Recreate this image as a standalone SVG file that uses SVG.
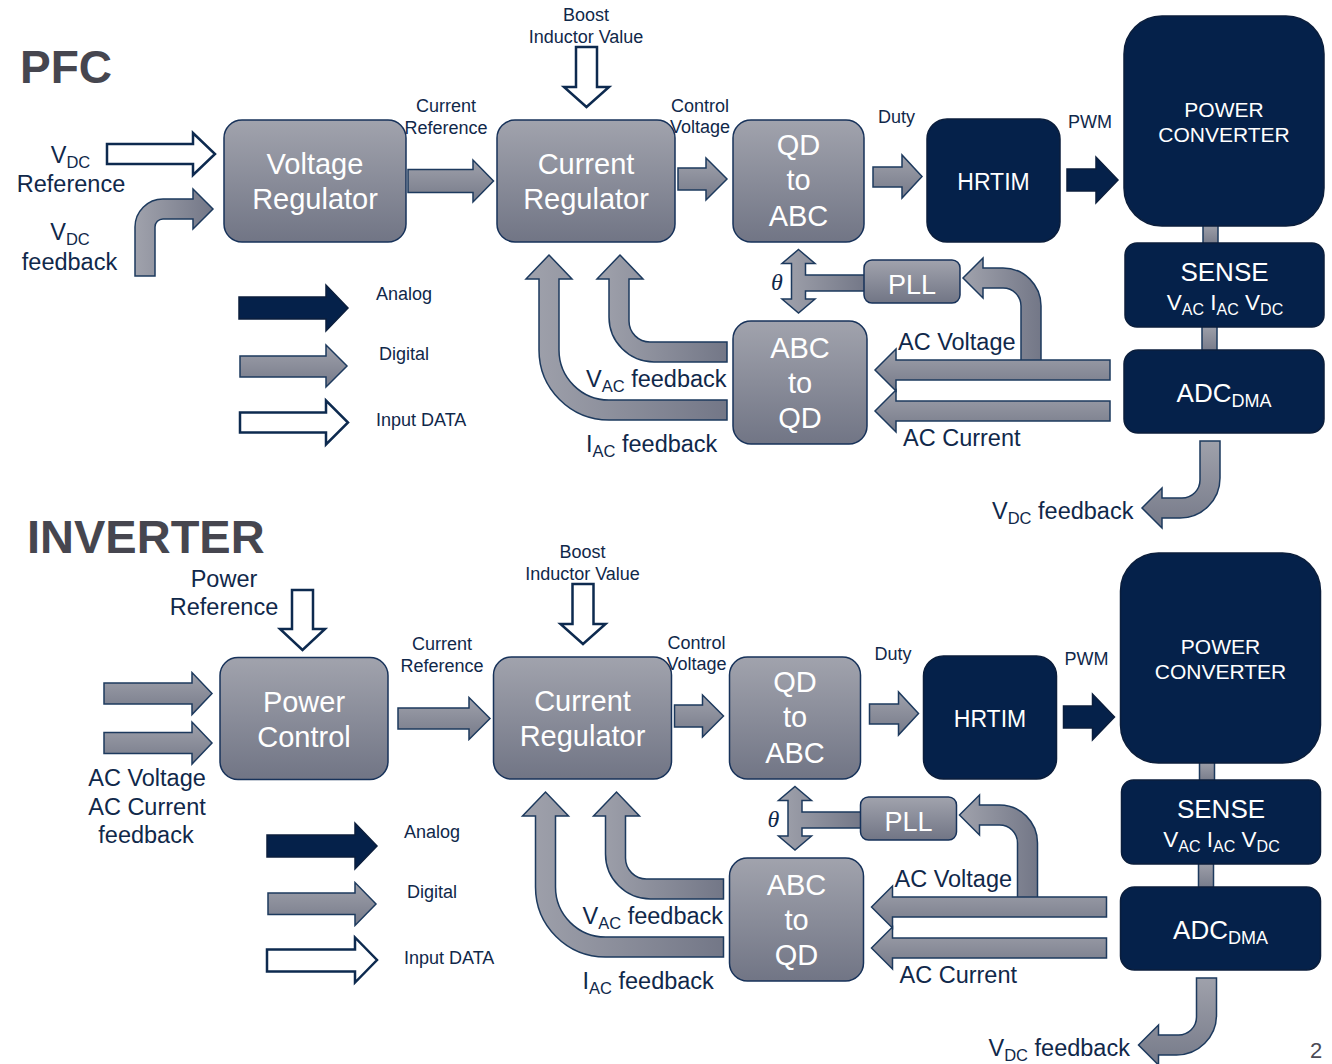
<svg xmlns="http://www.w3.org/2000/svg" width="1332" height="1064" viewBox="0 0 1332 1064">
  <defs>
    <linearGradient id="boxGrad" x1="0" y1="0" x2="0" y2="1">
      <stop offset="0" stop-color="#a1a3ad"/>
      <stop offset="1" stop-color="#717585"/>
    </linearGradient>
    <linearGradient id="arrGrad" x1="0" y1="0" x2="0" y2="1">
      <stop offset="0" stop-color="#9fa1ab"/>
      <stop offset="1" stop-color="#767a89"/>
    </linearGradient>
    <linearGradient id="bendGrad" x1="0" y1="0" x2="1" y2="0">
      <stop offset="0" stop-color="#a0a2ac"/>
      <stop offset="1" stop-color="#737787"/>
    </linearGradient>
    <style>
      .box { fill: url(#boxGrad); stroke: #17325a; stroke-width: 1.5; }
      .navy { fill: #05214a; stroke: #0b1e3c; stroke-width: 1.5; }
      .dig { fill: url(#arrGrad); stroke: #1d3a5e; stroke-width: 1.5; }
      .bend { fill: url(#bendGrad); stroke: #1d3a5e; stroke-width: 1.5; }
      .ana { fill: #05214a; stroke: #0b1e3c; stroke-width: 1.5; }
      .inp { fill: #ffffff; stroke: #0d2a4f; stroke-width: 2.5; }
      text { font-family: "Liberation Sans", Arial, sans-serif; }
      .lbl { fill: #10284a; }
      .s18 { font-size: 18px; }
      .s24 { font-size: 23.5px; }
      .mid { text-anchor: middle; }
      .wt { fill: #ffffff; text-anchor: middle; }
      .big { font-size: 29px; }
      .title { font-weight: bold; fill: #46464f; }
      .theta { font-family: "Liberation Serif", "Times New Roman", serif; font-style: italic; font-size: 24px; fill: #10284a; }
    </style>
  </defs>

  <rect width="1332" height="1064" fill="#ffffff"/>

  <!-- ================= PFC ================= -->
  <g id="pfc">
    <text class="title" x="20" y="83" font-size="46">PFC</text>

    <g id="pfc-connectors">
      <path class="inp" d="M107,144 H193 V133 L215,154 L193,175 V164 H107 Z"/>
      <path class="bend" d="M135,276 V227 A28 28 0 0 1 163,199 H193 V189 L213,209 L193,229 V219 H163 A8 8 0 0 0 155,227 V276 Z"/>
      <path class="dig" d="M408,169.5 H473 V160 L493.5,181 L473,202 V192.5 H408 Z"/>
      <path class="inp" d="M576,47 H597 V87 H609 L586.5,107 L564,87 H576 Z"/>
      <path class="dig" d="M678,168 H706 V158 L727,179 L706,200 V190 H678 Z"/>
      <path class="dig" d="M873,167 H902 V155 L922,176.5 L902,198 V187 H873 Z"/>
      <path class="ana" d="M1067,169 H1096 V157 L1118,180 L1096,203 V191 H1067 Z"/>
      <rect class="dig" x="1203" y="224" width="15" height="21"/>
      <rect class="dig" x="1202" y="325" width="15" height="27"/>
      <path class="bend" d="M1041,361 V306 A38 38 0 0 0 1003,268 H983 V258 L963,278 L983,298 V288 H1003 A18 18 0 0 1 1021,306 V361 Z"/>
      <path class="dig" d="M1110,360 H896 V349 L875,370 L896,391 V380 H1110 Z"/>
      <path class="dig" d="M1110,401 H896 V390 L875,411 L896,432 V421 H1110 Z"/>
      <path class="bend" d="M798.5,249.5 L815,263.5 H805.5 V275 H866 V291 H805.5 V299 H815 L798.5,313 L782,299 H791.5 V263.5 H782 Z"/>
      <path class="bend" d="M727,342 H650 A21 21 0 0 1 629,321 V279 H643 L620,255 L597,279 H609 V317 A45 45 0 0 0 654,362 H727 Z"/>
      <path class="bend" d="M727,400 H609 A50 50 0 0 1 559,350 V279 H572 L549,255 L526,279 H539 V350 A70 70 0 0 0 609,420 H727 Z"/>
      <path class="dig" d="M1200,441 H1220 V478 A40 40 0 0 1 1180,518 H1162 V528 L1142,508 L1162,488 V498 H1182 A18 18 0 0 0 1200,480 Z"/>
    </g>

    <g id="pfc-voltage-regulator">
      <rect class="box" x="224" y="120" width="182" height="122" rx="18"/>
      <text class="wt big" x="315" y="174">Voltage</text>
      <text class="wt big" x="315" y="209">Regulator</text>
    </g>
    <g id="pfc-current-regulator">
      <rect class="box" x="497" y="120" width="178" height="122" rx="18"/>
      <text class="wt big" x="586" y="174">Current</text>
      <text class="wt big" x="586" y="209">Regulator</text>
    </g>
    <g id="pfc-qd-to-abc">
      <rect class="box" x="733" y="120" width="131" height="122" rx="18"/>
      <text class="wt big" x="798.5" y="155">QD</text>
      <text class="wt big" x="798.5" y="190">to</text>
      <text class="wt big" x="798.5" y="226">ABC</text>
    </g>
    <g id="pfc-hrtim">
      <rect class="navy" x="927" y="119" width="133" height="123" rx="20"/>
      <text class="wt" x="993.5" y="190" font-size="23">HRTIM</text>
    </g>
    <g id="pfc-power-converter">
      <rect class="navy" x="1124" y="16" width="200" height="210" rx="38"/>
      <text class="wt" x="1224" y="117" font-size="21">POWER</text>
      <text class="wt" x="1224" y="142" font-size="21">CONVERTER</text>
    </g>
    <g id="pfc-sense">
      <rect class="navy" x="1125" y="243" width="199" height="84" rx="12"/>
      <text class="wt" x="1224.5" y="281" font-size="26">SENSE</text>
      <text class="wt" x="1225" y="310" font-size="22.5">V<tspan font-size="16" dy="5">AC</tspan><tspan dy="-5"> I</tspan><tspan font-size="16" dy="5">AC</tspan><tspan dy="-5"> V</tspan><tspan font-size="16" dy="5">DC</tspan></text>
    </g>
    <g id="pfc-adc">
      <rect class="navy" x="1124" y="350" width="200" height="83" rx="14"/>
      <text class="wt" x="1224" y="402" font-size="26">ADC<tspan font-size="18" dy="5">DMA</tspan></text>
    </g>
    <g id="pfc-pll">
      <rect class="box" x="864" y="260" width="96" height="43" rx="8"/>
      <text class="wt" x="912" y="294" font-size="27">PLL</text>
    </g>
    <g id="pfc-abc-to-qd">
      <rect class="box" x="733" y="321" width="134" height="123" rx="18"/>
      <text class="wt big" x="800" y="358">ABC</text>
      <text class="wt big" x="800" y="393">to</text>
      <text class="wt big" x="800" y="428">QD</text>
    </g>

    <g id="pfc-labels" class="lbl">
      <text class="s24 mid" x="70.5" y="163">V<tspan font-size="16.5" dy="5">DC</tspan></text>
      <text class="s24 mid" x="71" y="192">Reference</text>
      <text class="s24 mid" x="70" y="240">V<tspan font-size="16.5" dy="5">DC</tspan></text>
      <text class="s24 mid" x="69.5" y="270">feedback</text>
      <text class="s18 mid" x="446" y="112">Current</text>
      <text class="s18 mid" x="446" y="134">Reference</text>
      <text class="s18 mid" x="586" y="21">Boost</text>
      <text class="s18 mid" x="586" y="43">Inductor Value</text>
      <text class="s18 mid" x="700" y="112">Control</text>
      <text class="s18 mid" x="700" y="133">Voltage</text>
      <text class="s18" x="878" y="123">Duty</text>
      <text class="s18" x="1068" y="128">PWM</text>
      <text class="theta" x="771" y="290">θ</text>
      <text class="s24" x="898" y="350">AC Voltage</text>
      <text class="s24" x="903" y="446">AC Current</text>
      <text class="s24" x="586" y="387">V<tspan font-size="16.5" dy="5">AC</tspan><tspan dy="-5"> feedback</tspan></text>
      <text class="s24" x="586" y="452">I<tspan font-size="16.5" dy="5">AC</tspan><tspan dy="-5"> feedback</tspan></text>
      <text class="s24" x="992" y="519">V<tspan font-size="16.5" dy="5">DC</tspan><tspan dy="-5"> feedback</tspan></text>
    </g>

    <g id="pfc-legend">
      <path class="ana" d="M239,297 H326 V285 L348,308 L326,331 V319 H239 Z"/>
      <path class="dig" d="M240,356 H326 V345 L347,366 L326,387 V377 H240 Z"/>
      <path class="inp" d="M240,412.5 H326 V400.5 L348,422.5 L326,444.5 V432.5 H240 Z"/>
      <text class="lbl s18" x="376" y="300">Analog</text>
      <text class="lbl s18" x="379" y="360">Digital</text>
      <text class="lbl s18" x="376" y="426">Input DATA</text>
    </g>
  </g>

  <!-- ================= INVERTER ================= -->
  <g id="inverter">
    <text class="title" x="27" y="553" font-size="47">INVERTER</text>

    <g id="inv-input-connectors">
      <path class="inp" d="M292,590 H313 V629 H325 L302.5,650 L280,629 H292 Z"/>
      <path class="dig" d="M104,683 H192 V672.5 L212,693.5 L192,714.5 V704 H104 Z"/>
      <path class="dig" d="M104,732.5 H192 V722 L212,743 L192,764 V753.5 H104 Z"/>
      <path class="dig" d="M398,708 H469 V697.5 L490,718.5 L469,739.5 V729 H398 Z"/>
    </g>

    <g id="inv-power-control">
      <rect class="box" x="220" y="657.5" width="168" height="122" rx="18"/>
      <text class="wt big" x="304" y="712">Power</text>
      <text class="wt big" x="304" y="747">Control</text>
    </g>

    <g id="inv-input-labels" class="lbl">
      <text class="s24 mid" x="224" y="587">Power</text>
      <text class="s24 mid" x="224" y="615">Reference</text>
      <text class="s24 mid" x="147" y="786">AC Voltage</text>
      <text class="s24 mid" x="147" y="815">AC Current</text>
      <text class="s24 mid" x="146" y="843">feedback</text>
      <text class="s18 mid" x="442" y="650">Current</text>
      <text class="s18 mid" x="442" y="672">Reference</text>
    </g>

    <!-- control chain, same layout as the PFC chain -->
    <g id="inv-chain" transform="translate(-3.5 537)">
      <g id="inv-connectors">
        <path class="inp" d="M576,47 H597 V87 H609 L586.5,107 L564,87 H576 Z"/>
        <path class="dig" d="M678,168 H706 V158 L727,179 L706,200 V190 H678 Z"/>
        <path class="dig" d="M873,167 H902 V155 L922,176.5 L902,198 V187 H873 Z"/>
        <path class="ana" d="M1067,169 H1096 V157 L1118,180 L1096,203 V191 H1067 Z"/>
        <rect class="dig" x="1203" y="224" width="15" height="21"/>
        <rect class="dig" x="1202" y="325" width="15" height="27"/>
        <path class="bend" d="M1041,361 V306 A38 38 0 0 0 1003,268 H983 V258 L963,278 L983,298 V288 H1003 A18 18 0 0 1 1021,306 V361 Z"/>
        <path class="dig" d="M1110,360 H896 V349 L875,370 L896,391 V380 H1110 Z"/>
        <path class="dig" d="M1110,401 H896 V390 L875,411 L896,432 V421 H1110 Z"/>
        <path class="bend" d="M798.5,249.5 L815,263.5 H805.5 V275 H866 V291 H805.5 V299 H815 L798.5,313 L782,299 H791.5 V263.5 H782 Z"/>
        <path class="bend" d="M727,342 H650 A21 21 0 0 1 629,321 V279 H643 L620,255 L597,279 H609 V317 A45 45 0 0 0 654,362 H727 Z"/>
        <path class="bend" d="M727,400 H609 A50 50 0 0 1 559,350 V279 H572 L549,255 L526,279 H539 V350 A70 70 0 0 0 609,420 H727 Z"/>
        <path class="dig" d="M1200,441 H1220 V478 A40 40 0 0 1 1180,518 H1162 V528 L1142,508 L1162,488 V498 H1182 A18 18 0 0 0 1200,480 Z"/>
      </g>

      <g id="inv-current-regulator">
        <rect class="box" x="497" y="120" width="178" height="122" rx="18"/>
        <text class="wt big" x="586" y="174">Current</text>
        <text class="wt big" x="586" y="209">Regulator</text>
      </g>
      <g id="inv-qd-to-abc">
        <rect class="box" x="733" y="120" width="131" height="122" rx="18"/>
        <text class="wt big" x="798.5" y="155">QD</text>
        <text class="wt big" x="798.5" y="190">to</text>
        <text class="wt big" x="798.5" y="226">ABC</text>
      </g>
      <g id="inv-hrtim">
        <rect class="navy" x="927" y="119" width="133" height="123" rx="20"/>
        <text class="wt" x="993.5" y="190" font-size="23">HRTIM</text>
      </g>
      <g id="inv-power-converter">
        <rect class="navy" x="1124" y="16" width="200" height="210" rx="38"/>
        <text class="wt" x="1224" y="117" font-size="21">POWER</text>
        <text class="wt" x="1224" y="142" font-size="21">CONVERTER</text>
      </g>
      <g id="inv-sense">
        <rect class="navy" x="1125" y="243" width="199" height="84" rx="12"/>
        <text class="wt" x="1224.5" y="281" font-size="26">SENSE</text>
        <text class="wt" x="1225" y="310" font-size="22.5">V<tspan font-size="16" dy="5">AC</tspan><tspan dy="-5"> I</tspan><tspan font-size="16" dy="5">AC</tspan><tspan dy="-5"> V</tspan><tspan font-size="16" dy="5">DC</tspan></text>
      </g>
      <g id="inv-adc">
        <rect class="navy" x="1124" y="350" width="200" height="83" rx="14"/>
        <text class="wt" x="1224" y="402" font-size="26">ADC<tspan font-size="18" dy="5">DMA</tspan></text>
      </g>
      <g id="inv-pll">
        <rect class="box" x="864" y="260" width="96" height="43" rx="8"/>
        <text class="wt" x="912" y="294" font-size="27">PLL</text>
      </g>
      <g id="inv-abc-to-qd">
        <rect class="box" x="733" y="321" width="134" height="123" rx="18"/>
        <text class="wt big" x="800" y="358">ABC</text>
        <text class="wt big" x="800" y="393">to</text>
        <text class="wt big" x="800" y="428">QD</text>
      </g>

      <g id="inv-labels" class="lbl">
        <text class="s18 mid" x="586" y="21">Boost</text>
        <text class="s18 mid" x="586" y="43">Inductor Value</text>
        <text class="s18 mid" x="700" y="112">Control</text>
        <text class="s18 mid" x="700" y="133">Voltage</text>
        <text class="s18" x="878" y="123">Duty</text>
        <text class="s18" x="1068" y="128">PWM</text>
        <text class="theta" x="771" y="290">θ</text>
        <text class="s24" x="898" y="350">AC Voltage</text>
        <text class="s24" x="903" y="446">AC Current</text>
        <text class="s24" x="586" y="387">V<tspan font-size="16.5" dy="5">AC</tspan><tspan dy="-5"> feedback</tspan></text>
        <text class="s24" x="586" y="452">I<tspan font-size="16.5" dy="5">AC</tspan><tspan dy="-5"> feedback</tspan></text>
        <text class="s24" x="992" y="519">V<tspan font-size="16.5" dy="5">DC</tspan><tspan dy="-5"> feedback</tspan></text>
      </g>
    </g>

    <g id="inv-legend">
      <path class="ana" d="M267,835 H355 V823 L377,846 L355,869 V857 H267 Z"/>
      <path class="dig" d="M268,893 H355 V882.5 L376,904 L355,925.5 V914.5 H268 Z"/>
      <path class="inp" d="M267,949.5 H355 V937.5 L377,960 L355,982.5 V971.5 H267 Z"/>
      <text class="lbl s18" x="404" y="838">Analog</text>
      <text class="lbl s18" x="407" y="898">Digital</text>
      <text class="lbl s18" x="404" y="964">Input DATA</text>
    </g>
  </g>

  <!-- page number -->
  <text x="1310" y="1058" font-size="22" fill="#4a4a55">2</text>
</svg>
